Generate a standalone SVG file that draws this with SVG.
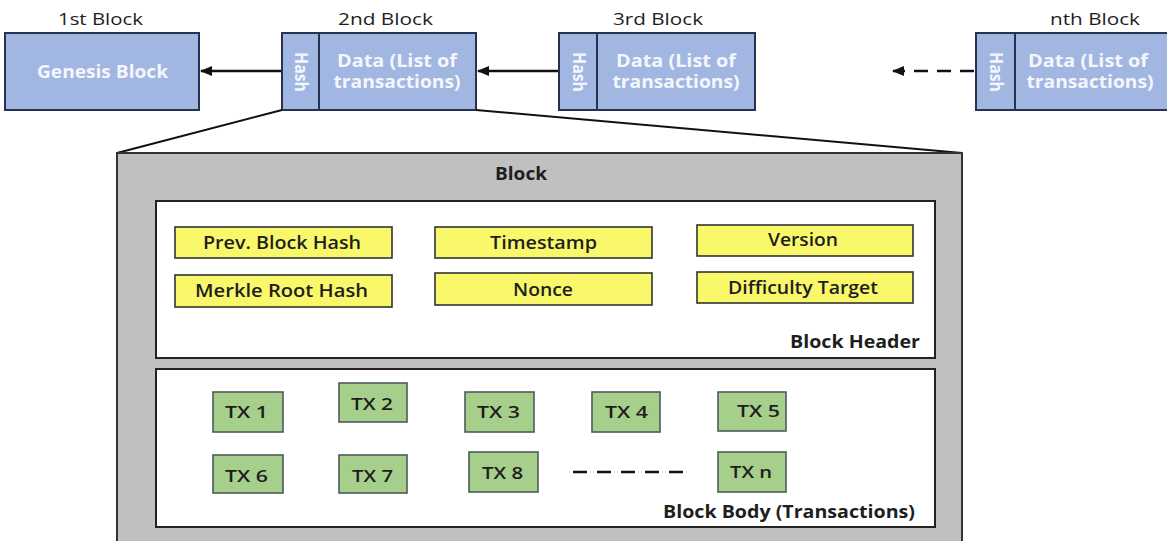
<svg xmlns="http://www.w3.org/2000/svg" width="1167" height="541" viewBox="0 0 1167 541">
<defs>
<marker id="ah" markerWidth="12" markerHeight="10" refX="11" refY="5" orient="auto" markerUnits="userSpaceOnUse">
<path d="M0,0 L12,5 L0,10 Z" fill="#111"/>
</marker>
<style>
text{font-family:"Open Sans","Liberation Sans",sans-serif;fill:#1e1e1e}
.lbl{font-size:17px;font-weight:400}
.blk{fill:#a2b6e2;stroke:#26324f;stroke-width:2}
.wt{fill:#f4f6fc;font-weight:700;font-size:17px}
.yel{fill:#f8f86a;stroke:#333;stroke-width:1.6}
.yt{font-size:18px;font-weight:600}
.grn{fill:#a6cf8c;stroke:#4f5b5c;stroke-width:1.6}
.tt{font-size:17px;font-weight:600}
.bt{font-size:17px;font-weight:700}
.ln{stroke:#111;stroke-width:2.6;fill:none}
</style>
</defs>
<rect width="1167" height="541" fill="#fff"/>

<g id="block1">
<text class="lbl" x="58" y="25" textLength="85" lengthAdjust="spacingAndGlyphs">1st Block</text>
<rect class="blk" x="5" y="33" width="194" height="77"/>
<text class="wt" x="37" y="78" textLength="131" lengthAdjust="spacingAndGlyphs">Genesis Block</text>
</g>

<g id="block2">
<text class="lbl" x="338" y="25" textLength="95" lengthAdjust="spacingAndGlyphs">2nd Block</text>
<rect class="blk" x="282" y="33" width="194" height="77"/>
<line x1="319" y1="33" x2="319" y2="110" stroke="#26324f" stroke-width="2"/>
<text class="wt" transform="translate(295,72) rotate(90)" text-anchor="middle" x="0" y="0" textLength="40" lengthAdjust="spacingAndGlyphs">Hash</text>
<text class="wt" x="397" y="67" text-anchor="middle" textLength="120" lengthAdjust="spacingAndGlyphs">Data (List of</text>
<text class="wt" x="397" y="88" text-anchor="middle" textLength="127" lengthAdjust="spacingAndGlyphs">transactions)</text>
</g>

<g id="block3">
<text class="lbl" x="613" y="25" textLength="90" lengthAdjust="spacingAndGlyphs">3rd Block</text>
<rect class="blk" x="559" y="33" width="196" height="77"/>
<line x1="597" y1="33" x2="597" y2="110" stroke="#26324f" stroke-width="2"/>
<text class="wt" transform="translate(573,72) rotate(90)" text-anchor="middle" x="0" y="0" textLength="40" lengthAdjust="spacingAndGlyphs">Hash</text>
<text class="wt" x="676" y="67" text-anchor="middle" textLength="120" lengthAdjust="spacingAndGlyphs">Data (List of</text>
<text class="wt" x="676" y="88" text-anchor="middle" textLength="127" lengthAdjust="spacingAndGlyphs">transactions)</text>
</g>

<g id="blockn">
<text class="lbl" x="1050" y="25" textLength="90" lengthAdjust="spacingAndGlyphs">nth Block</text>
<rect class="blk" x="976" y="33" width="196" height="77"/>
<line x1="1015" y1="33" x2="1015" y2="110" stroke="#26324f" stroke-width="2"/>
<text class="wt" transform="translate(990,72) rotate(90)" text-anchor="middle" x="0" y="0" textLength="40" lengthAdjust="spacingAndGlyphs">Hash</text>
<text class="wt" x="1088" y="67" text-anchor="middle" textLength="120" lengthAdjust="spacingAndGlyphs">Data (List of</text>
<text class="wt" x="1090" y="88" text-anchor="middle" textLength="127" lengthAdjust="spacingAndGlyphs">transactions)</text>
</g>

<g id="connectors">
<line class="ln" x1="281" y1="71" x2="201" y2="71" marker-end="url(#ah)"/>
<line class="ln" x1="558" y1="71" x2="478" y2="71" marker-end="url(#ah)"/>
<line class="ln" x1="974" y1="71" x2="893" y2="71" stroke-dasharray="14 9" marker-end="url(#ah)"/>
<line x1="282" y1="110" x2="117" y2="153" stroke="#111" stroke-width="2"/>
<line x1="476" y1="110" x2="962" y2="153" stroke="#111" stroke-width="2"/>
</g>

<g id="block-detail">
<rect x="117" y="153" width="845" height="390" fill="#c0c0c0" stroke="#333" stroke-width="2"/>
<text class="bt" x="495" y="180" textLength="52" lengthAdjust="spacingAndGlyphs">Block</text>
</g>

<g id="block-header">
<rect x="156" y="201" width="779" height="157" fill="#fff" stroke="#222" stroke-width="2"/>
<text class="bt" x="790" y="348" textLength="130" lengthAdjust="spacingAndGlyphs">Block Header</text>
</g>

<g id="prev-hash">
<rect class="yel" x="175" y="227" width="217" height="31"/>
<text class="yt" x="203" y="249" textLength="158" lengthAdjust="spacingAndGlyphs">Prev. Block Hash</text>
</g>
<g id="merkle">
<rect class="yel" x="175" y="275" width="217" height="32"/>
<text class="yt" x="195" y="297" textLength="173" lengthAdjust="spacingAndGlyphs">Merkle Root Hash</text>
</g>
<g id="timestamp">
<rect class="yel" x="435" y="227" width="217" height="31"/>
<text class="yt" x="490" y="249" textLength="107" lengthAdjust="spacingAndGlyphs">Timestamp</text>
</g>
<g id="nonce">
<rect class="yel" x="435" y="273" width="217" height="32"/>
<text class="yt" x="513" y="296" textLength="60" lengthAdjust="spacingAndGlyphs">Nonce</text>
</g>
<g id="version">
<rect class="yel" x="697" y="225" width="216" height="31"/>
<text class="yt" x="768" y="246" textLength="70" lengthAdjust="spacingAndGlyphs">Version</text>
</g>
<g id="difficulty">
<rect class="yel" x="697" y="272" width="216" height="31"/>
<text class="yt" x="728" y="294" textLength="150" lengthAdjust="spacingAndGlyphs">Difficulty Target</text>
</g>

<g id="block-body">
<rect x="156" y="369" width="779" height="158" fill="#fff" stroke="#222" stroke-width="2"/>
<text class="bt" x="663" y="518" textLength="252" lengthAdjust="spacingAndGlyphs">Block Body (Transactions)</text>
<line x1="573" y1="472" x2="683" y2="472" stroke="#111" stroke-width="2.4" stroke-dasharray="14 10"/>
</g>

<g id="tx1"><rect class="grn" x="213" y="392" width="70" height="40"/><text class="tt" x="225" y="418" textLength="43" lengthAdjust="spacingAndGlyphs">TX 1</text></g>
<g id="tx2"><rect class="grn" x="339" y="383" width="68" height="39"/><text class="tt" x="351" y="410" textLength="42" lengthAdjust="spacingAndGlyphs">TX 2</text></g>
<g id="tx3"><rect class="grn" x="465" y="392" width="69" height="40"/><text class="tt" x="477" y="418" textLength="43" lengthAdjust="spacingAndGlyphs">TX 3</text></g>
<g id="tx4"><rect class="grn" x="592" y="392" width="68" height="40"/><text class="tt" x="605" y="418" textLength="43" lengthAdjust="spacingAndGlyphs">TX 4</text></g>
<g id="tx5"><rect class="grn" x="718" y="392" width="68" height="39"/><text class="tt" x="737" y="417" textLength="43" lengthAdjust="spacingAndGlyphs">TX 5</text></g>
<g id="tx6"><rect class="grn" x="213" y="455" width="70" height="38"/><text class="tt" x="225" y="482" textLength="43" lengthAdjust="spacingAndGlyphs">TX 6</text></g>
<g id="tx7"><rect class="grn" x="339" y="455" width="68" height="38"/><text class="tt" x="352" y="482" textLength="41" lengthAdjust="spacingAndGlyphs">TX 7</text></g>
<g id="tx8"><rect class="grn" x="469" y="452" width="69" height="40"/><text class="tt" x="482" y="479" textLength="41" lengthAdjust="spacingAndGlyphs">TX 8</text></g>
<g id="txn"><rect class="grn" x="718" y="452" width="68" height="40"/><text class="tt" x="730" y="478" textLength="42" lengthAdjust="spacingAndGlyphs">TX n</text></g>
</svg>
